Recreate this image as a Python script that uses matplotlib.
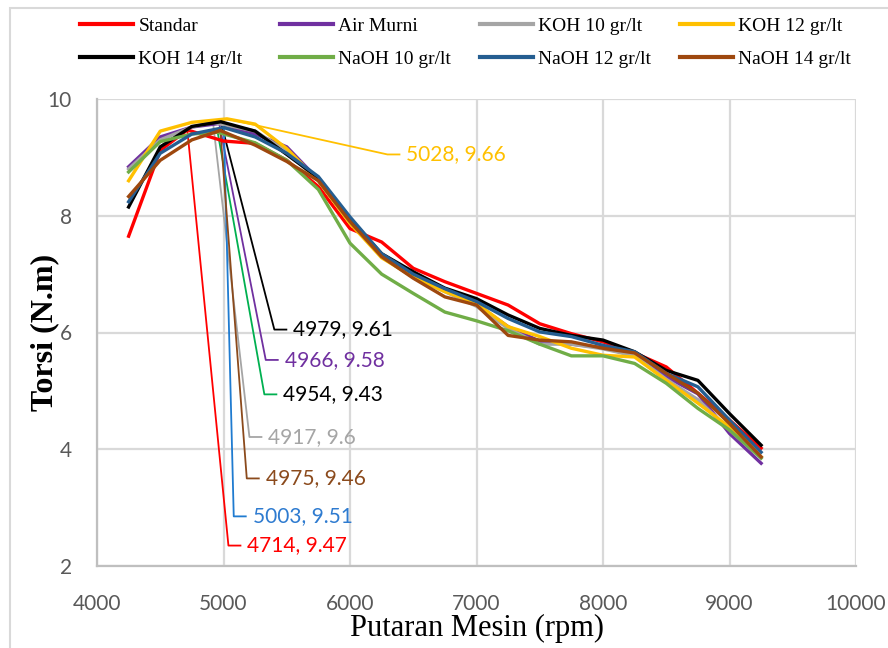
import matplotlib
matplotlib.use('Agg')
import matplotlib.pyplot as plt
from matplotlib.lines import Line2D
from matplotlib.patches import Rectangle

# ---------------- data ----------------
rpm = [4250, 4500, 4750, 5000, 5250, 5500, 5750, 6000, 6250, 6500, 6750,
       7000, 7250, 7500, 7750, 8000, 8250, 8500, 8750, 9000, 9250]

series_names = ['Standar', 'Air Murni', 'KOH 10 gr/lt', 'KOH 12 gr/lt',
                'KOH 14 gr/lt', 'NaOH 10 gr/lt', 'NaOH 12 gr/lt', 'NaOH 14 gr/lt']

standar = [7.65, 9.12, 9.47, 9.28, 9.24, 8.95, 8.50, 7.78, 7.55, 7.10, 6.87,
           6.67, 6.47, 6.15, 5.98, 5.84, 5.65, 5.41, 4.96, 4.50, 4.02]
air_murni = [8.84, 9.35, 9.52, 9.58, 9.40, 9.18, 8.62, 7.95, 7.30, 6.95, 6.72,
             6.48, 6.10, 5.85, 5.80, 5.74, 5.60, 5.24, 4.95, 4.27, 3.76]
koh10 = [8.80, 9.30, 9.52, 9.60, 9.45, 9.10, 8.60, 7.90, 7.30, 6.95, 6.70,
         6.45, 6.07, 5.80, 5.80, 5.72, 5.60, 5.20, 4.85, 4.33, 3.85]
koh12 = [8.60, 9.45, 9.60, 9.66, 9.57, 9.15, 8.60, 7.87, 7.28, 6.95, 6.70,
         6.50, 6.10, 5.93, 5.73, 5.61, 5.58, 5.18, 4.79, 4.38, 3.87]
koh14 = [8.15, 9.18, 9.53, 9.61, 9.45, 9.05, 8.65, 7.95, 7.35, 7.04, 6.76,
         6.58, 6.30, 6.07, 5.95, 5.87, 5.67, 5.35, 5.18, 4.61, 4.07]
naoh10 = [8.75, 9.27, 9.40, 9.43, 9.25, 8.95, 8.45, 7.53, 7.00, 6.67, 6.35,
          6.20, 6.03, 5.80, 5.60, 5.60, 5.47, 5.13, 4.70, 4.33, 3.85]
naoh12 = [8.24, 9.07, 9.40, 9.51, 9.35, 9.07, 8.67, 7.98, 7.35, 7.00, 6.75,
          6.53, 6.24, 6.01, 5.93, 5.78, 5.67, 5.30, 5.07, 4.50, 3.95]
naoh14 = [8.33, 8.95, 9.30, 9.46, 9.21, 8.93, 8.60, 7.90, 7.30, 6.93, 6.61,
          6.47, 5.95, 5.87, 5.84, 5.73, 5.65, 5.30, 4.96, 4.44, 3.87]

series_values = [standar, air_murni, koh10, koh12, koh14, naoh10, naoh12, naoh14]

# measured rpm at the peak point of each series (replaces the grid value)
peak_rpm = [4714, 4966, 4917, 5028, 4979, 4954, 5003, 4975]
peak_torque = [9.47, 9.58, 9.6, 9.66, 9.61, 9.43, 9.51, 9.46]
peak_index = [2, 3, 3, 3, 3, 3, 3, 3]

# data-label anchor positions (end of leader stub)
label_x = [5134, 5429, 5300, 6391, 5497, 5418, 5176, 5279]
label_y = [2.35, 5.53, 4.21, 9.05, 6.05, 4.94, 2.85, 3.50]

# ---------------- styles ----------------
line_colors = ['#FF0000', '#7030A0', '#A5A5A5', '#FFC000',
               '#000000', '#70AD47', '#255E91', '#9E480E']
leader_colors = ['#FF0000', '#7030A0', '#A5A5A5', '#FFC000',
                 '#000000', '#00B050', '#1F7BD0', '#8B4A1C']
label_colors = ['#FF0000', '#7030A0', '#A5A5A5', '#FFC000',
                '#000000', '#000000', '#2E7BD0', '#8B4A1C']

label_font = ['Lato', 'DejaVu Sans']
serif_font = ['Liberation Serif', 'DejaVu Serif']

fig = plt.figure(figsize=(8.88, 6.48), dpi=100)
ax = fig.add_axes([97/888, 1-566/648, (856-97)/888, (566-99)/648])

for i, (name, vals) in enumerate(zip(series_names, series_values)):
    xs = list(rpm)
    xs[peak_index[i]] = peak_rpm[i]
    ax.plot(xs, vals, color=line_colors[i], lw=2.4, solid_joinstyle='round',
            label=name, zorder=3 + i * 0.1)

stub = 95
for i in range(len(series_names)):
    ax.plot([peak_rpm[i], label_x[i] - stub, label_x[i]],
            [peak_torque[i], label_y[i], label_y[i]],
            color=leader_colors[i], lw=1.3, zorder=2.5)
    ax.annotate(f"{peak_rpm[i]}, {peak_torque[i]:g}", xy=(label_x[i], label_y[i]),
                xytext=(5, 0), textcoords='offset points', ha='left', va='center',
                fontsize=15, family=label_font, color=label_colors[i], zorder=5)

ax.set_xlim(4000, 10000)
ax.set_ylim(2, 10)
ax.set_xticks(range(4000, 10001, 1000))
ax.set_yticks(range(2, 11, 2))
ax.grid(True, color='#D9D9D9', lw=1.6, zorder=0)
ax.set_axisbelow(True)
for s in ['top', 'right']:
    ax.spines[s].set_visible(False)
for s in ['left', 'bottom']:
    ax.spines[s].set_color('#BFBFBF')
    ax.spines[s].set_linewidth(1.6)
ax.tick_params(axis='both', length=0, colors='#595959', labelsize=15)
ax.tick_params(axis='x', pad=20)
ax.tick_params(axis='y', pad=18)
for lab in ax.get_xticklabels() + ax.get_yticklabels():
    lab.set_family(label_font)

ax.set_xlabel('Putaran Mesin (rpm)', family=serif_font, fontsize=22, labelpad=0)
ax.set_ylabel('Torsi (N.m)', family=serif_font, fontsize=23, fontweight='bold',
              labelpad=-8)

# legend: 4 columns, each a separate single-column legend (200 px apart)
handles = [Line2D([0], [0], color=c, lw=3) for c in line_colors]
for col in range(4):
    idx = [col, col + 4]
    fig.legend([handles[k] for k in idx], [series_names[k] for k in idx],
               loc='upper left', bbox_to_anchor=((80 + 200 * col)/888, 1 - 17/648),
               frameon=False, prop={'family': serif_font, 'size': 14},
               handlelength=2.75, handletextpad=0.25, borderpad=0,
               borderaxespad=0, labelspacing=0.8)

# chart-area border
fig.patches.append(Rectangle((10/888, -0.1), 1.2, 1 - 8/648 + 0.1,
                             transform=fig.transFigure, fill=False,
                             edgecolor='#D9D9D9', lw=1.5))

fig.savefig('out.png', dpi=100)
